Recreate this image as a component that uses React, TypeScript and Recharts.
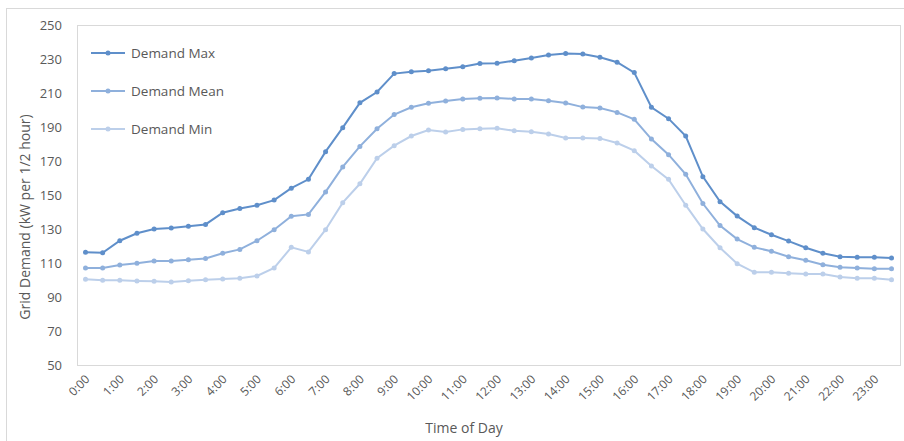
import React from "react";
import { LineChart, Line, XAxis, YAxis, Legend } from "recharts";

const times = [
  "0:00", "0:30", "1:00", "1:30", "2:00", "2:30", "3:00", "3:30",
  "4:00", "4:30", "5:00", "5:30", "6:00", "6:30", "7:00", "7:30",
  "8:00", "8:30", "9:00", "9:30", "10:00", "10:30", "11:00", "11:30",
  "12:00", "12:30", "13:00", "13:30", "14:00", "14:30", "15:00", "15:30",
  "16:00", "16:30", "17:00", "17:30", "18:00", "18:30", "19:00", "19:30",
  "20:00", "20:30", "21:00", "21:30", "22:00", "22:30", "23:00", "23:30",
];

const demandMax = [
  116.3, 116, 123.1, 127.5, 130, 130.6, 131.6, 132.7,
  139.6, 142, 144, 147, 154, 159.2, 175.5, 189.6,
  204.2, 210.6, 221.4, 222.5, 223.1, 224.3, 225.5, 227.3,
  227.5, 229, 230.6, 232.4, 233.3, 232.9, 231, 228.1,
  222, 201.6, 194.9, 184.7, 160.8, 146.1, 137.6, 130.8,
  126.6, 122.9, 119, 115.7, 113.7, 113.4, 113.4, 112.9,
];

const demandMean = [
  107.1, 107.1, 108.8, 109.8, 111.2, 111.2, 111.9, 112.7,
  115.7, 118, 123.1, 129.6, 137.5, 138.6, 151.8, 166.5,
  178.6, 189, 197.3, 201.6, 204, 205.3, 206.5, 206.9,
  207.1, 206.5, 206.5, 205.5, 204.1, 201.7, 201.2, 198.6,
  194.5, 182.9, 173.7, 162.2, 145, 132, 124.1, 119.2,
  116.9, 113.7, 111.6, 109, 107.5, 107.1, 106.6, 106.6,
];

const demandMin = [
  100.4, 99.8, 99.8, 99.4, 99.2, 98.8, 99.6, 100.2,
  100.6, 101, 102.4, 107.1, 119.2, 116.5, 129.6, 145.5,
  156.6, 171.6, 179, 184.7, 188.2, 187.1, 188.6, 189,
  189.2, 187.8, 187.2, 185.9, 183.5, 183.6, 183.3, 180.6,
  176.1, 167.1, 159.2, 144, 130, 119, 109.6, 104.5,
  104.5, 103.9, 103.5, 103.5, 101.8, 101, 101, 100.2,
];

const yTicks = [50, 70, 90, 110, 130, 150, 170, 190, 210, 230, 250];

const seriesNames = ["Demand Max", "Demand Mean", "Demand Min"];
const seriesKeys = ["max", "mean", "min"];
const seriesColors = ["#5f8fca", "#8fb0dc", "#bccfea"];

const data = times.map((t, i) => ({
  time: t,
  max: demandMax[i],
  mean: demandMean[i],
  min: demandMin[i],
}));

const FONT = "'Open Sans', sans-serif";
const TEXT = "#595959";

const XTick = (props: any) => {
  const { x, y, payload } = props;
  return (
    <g transform={`translate(${x + 2},${y + 12})`}>
      <text
        transform="rotate(-45)"
        textAnchor="end"
        dy="0.35em"
        fontSize={12}
        fontFamily={FONT}
        fill={TEXT}
      >
        {payload.value}
      </text>
    </g>
  );
};

const LegendContent = () => (
  <div style={{ fontFamily: FONT, fontSize: 13.5, color: TEXT }}>
    {seriesNames.map((n, i) => (
      <div
        key={n}
        style={{ display: "flex", alignItems: "center", height: 38, whiteSpace: "nowrap" }}
      >
        <svg width={37} height={10} style={{ marginRight: 3 }}>
          <line x1={0} y1={5} x2={34} y2={5} stroke={seriesColors[i]} strokeWidth={2} />
          <circle cx={17} cy={5} r={2.5} fill={seriesColors[i]} />
        </svg>
        <span>{n}</span>
      </div>
    ))}
  </div>
);

export default function App() {
  return (
    <div style={{ position: "absolute", left: 0, top: 0, width: 904, height: 441, background: "#fff" }}>
      <div
        style={{
          position: "absolute",
          left: 6,
          top: 8,
          width: 898,
          height: 433,
          borderLeft: "1px solid #d9d9d9",
          borderTop: "1px solid #d9d9d9",
        }}
      />
      <div
        style={{
          position: "absolute",
          left: 77,
          top: 25,
          width: 822,
          height: 339,
          border: "1px solid #d9d9d9",
          pointerEvents: "none",
        }}
      />
      <div style={{ position: "absolute", left: 0, top: 0 }}>
        <LineChart
          width={904}
          height={441}
          data={data}
          margin={{ top: 25, right: 4, left: 17, bottom: 26 }}
        >
          <XAxis
            dataKey="time"
            interval={1}
            tick={<XTick />}
            tickLine={false}
            axisLine={false}
            tickSize={0}
            tickMargin={0}
            height={50}
            padding={{ left: 8.5, right: 8.5 }}
          />
          <YAxis
            domain={[50, 250]}
            ticks={yTicks}
            width={60}
            tickLine={false}
            axisLine={false}
            tickSize={6}
            tickMargin={9}
            tick={{ fontSize: 13, fontFamily: FONT, fill: TEXT }}
          />
          <Legend
            verticalAlign="middle"
            align="center"
            layout="vertical"
            content={<LegendContent />}
            wrapperStyle={{ position: "absolute", left: 91, top: 34, width: 200, height: 114 }}
          />
          {seriesKeys.map((k, i) => (
            <Line
              key={k}
              type="linear"
              dataKey={k}
              name={seriesNames[i]}
              stroke={seriesColors[i]}
              strokeWidth={2}
              dot={{ r: 2.5, fill: seriesColors[i], stroke: seriesColors[i], strokeWidth: 0 }}
              isAnimationActive={false}
            />
          ))}
        </LineChart>
      </div>
      <div
        style={{
          position: "absolute",
          left: 24,
          top: 217,
          transform: "translate(-50%, -50%) rotate(-90deg)",
          fontFamily: FONT,
          fontSize: 14,
          color: TEXT,
          whiteSpace: "nowrap",
        }}
      >
        Grid Demand (kW per 1/2 hour)
      </div>
      <div
        style={{
          position: "absolute",
          left: 464,
          top: 427,
          transform: "translate(-50%, -50%)",
          fontFamily: FONT,
          fontSize: 14,
          color: TEXT,
          whiteSpace: "nowrap",
        }}
      >
        Time of Day
      </div>
    </div>
  );
}
